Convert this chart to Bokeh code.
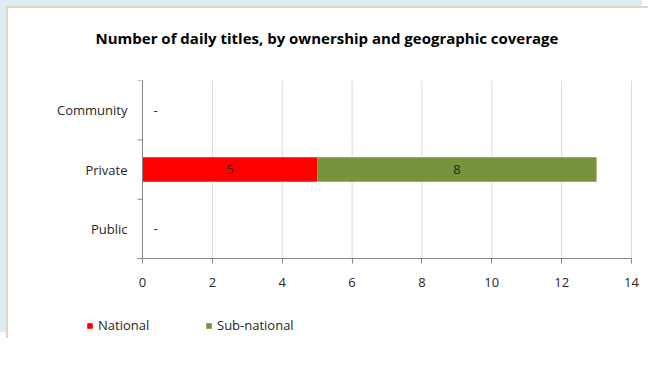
from bokeh.plotting import figure
from bokeh.models import (ColumnDataSource, FixedTicker, LabelSet, Legend, Title)
from bokeh.core.properties import value
from bokeh.embed import file_html
from bokeh.resources import INLINE

# ---- data ----
categories = ["Public", "Private", "Community"]   # bottom to top
national = [0, 5, 0]
subnational = [0, 8, 0]
x_ticks = [0, 2, 4, 6, 8, 10, 12, 14]
series_names = ["National", "Sub-national"]
series_colors = ["#FF0000", "#77933C"]
title_text = "Number of daily titles, by ownership and geographic coverage"

FONT = "Open Sans"
TXT = "#262626"
GRID = "#D9D9D9"
AXIS = "#868686"

ncat = len(categories)
ypos = [i + 0.5 for i in range(ncat)]
bounds = list(range(ncat + 1))
src = ColumnDataSource(dict(y=ypos, cat=categories, National=national,
                            **{"Sub-national": subnational}))

# frame spans the whole width and extends below the bars to hold the legend
p = figure(frame_width=642, frame_height=260,
           output_backend="svg", toolbar_location=None,
           x_range=(-3.836, 14.543), y_range=(-1.38, ncat),
           min_border_left=0, min_border_right=0,
           min_border_top=0, min_border_bottom=0)
p.styles = {"margin-left": "8px", "margin-top": "8px",
            "box-shadow": "-2px -2px 0 0 #DDD9C3, -8px -8px 0 0 #DAEEF3"}
p.outline_line_color = None
p.background_fill_color = "white"
p.border_fill_color = "white"
p.xgrid.visible = False
p.ygrid.visible = False
p.yaxis.visible = False

# vertical grid lines over the category area
p.segment(x0=x_ticks, y0=[0] * len(x_ticks), x1=x_ticks, y1=[ncat] * len(x_ticks),
          line_color=GRID, line_width=1, level="underlay")

renderers = p.hbar_stack(series_names, y="y", height=0.41, color=series_colors,
                         line_color=None, source=src)

# value axis line and category boundary ticks
p.segment(x0=[0], y0=[0], x1=[0], y1=[ncat], line_color=AXIS, line_width=1)
p.segment(x0=[0] * len(bounds), y0=bounds, x1=[-0.143] * len(bounds), y1=bounds,
          line_color=AXIS, line_width=1)

# category labels
csrc = ColumnDataSource(dict(x=[0] * ncat, y=ypos, t=categories))
p.add_layout(LabelSet(x="x", y="y", text="t", source=csrc, text_align="right",
                      text_baseline="middle", text_font=value(FONT),
                      text_font_size=value("13px"), text_color=TXT, x_offset=-15))

# x axis drawn at y = 0
p.xaxis.fixed_location = 0
p.xaxis.bounds = (0, 14)
p.xaxis.ticker = FixedTicker(ticks=x_ticks)
p.xaxis.axis_line_color = AXIS
p.xaxis.major_tick_line_color = AXIS
p.xaxis.major_tick_out = 5
p.xaxis.major_tick_in = 0
p.xaxis.minor_tick_line_color = None
p.xaxis.major_label_text_font = FONT
p.xaxis.major_label_text_font_size = "13px"
p.xaxis.major_label_text_color = TXT
p.xaxis.major_label_standoff = 14

# data labels
lab_x, lab_y, lab_t, zero_x, zero_y = [], [], [], [], []
for y, n, s in zip(ypos, national, subnational):
    if n > 0:
        lab_x.append(n / 2); lab_y.append(y); lab_t.append(str(n))
    if s > 0:
        lab_x.append(n + s / 2); lab_y.append(y); lab_t.append(str(s))
    if n == 0 and s == 0:
        zero_x.append(0); zero_y.append(y)
lsrc = ColumnDataSource(dict(x=lab_x, y=lab_y, t=lab_t))
p.add_layout(LabelSet(x="x", y="y", text="t", source=lsrc, text_align="center",
                      text_baseline="middle", text_font=value(FONT),
                      text_font_size=value("13px"), text_color=TXT))
zsrc = ColumnDataSource(dict(x=zero_x, y=zero_y, t=["-"] * len(zero_x)))
p.add_layout(LabelSet(x="x", y="y", text="t", source=zsrc, text_align="center",
                      text_baseline="middle", text_font=value(FONT),
                      text_font_size=value("13px"), text_color=TXT, x_offset=13))

# spacer between title and plot area, then title
p.add_layout(Title(text=" ", text_font_size="1px", standoff=9), "above")
p.add_layout(Title(text=title_text, align="left", offset=87, standoff=38,
                   vertical_align="top",
                   text_font=FONT, text_font_size="15px", text_font_style="bold",
                   text_color="#000000"), "above")

# legend
legend = Legend(items=[(name, [r]) for name, r in zip(series_names, renderers)],
                orientation="horizontal", location=(78, 6),
                glyph_width=7, glyph_height=7, label_standoff=5, spacing=0,
                label_width=107, label_height=18, padding=0, margin=0,
                border_line_color=None, background_fill_alpha=0,
                label_text_font=FONT, label_text_font_size="13px",
                label_text_color=TXT)
p.add_layout(legend, "center")

open("out.html", "w").write(file_html(p, INLINE))
